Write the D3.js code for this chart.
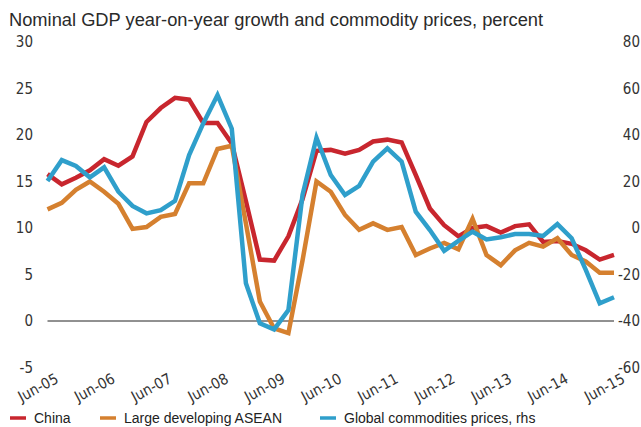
<!DOCTYPE html>
<html>
<head>
<meta charset="utf-8">
<script src="https://cdn.jsdelivr.net/npm/d3@7"></script>
<style>
  body { margin: 0; background: #fff; }
  svg { display: block; }
</style>
</head>
<body>
<div id="chart"></div>
<script>
// Quarterly observations, Jun-05 .. Jun-15
var tickLabels = ["Jun-05", "Jun-06", "Jun-07", "Jun-08", "Jun-09", "Jun-10",
                  "Jun-11", "Jun-12", "Jun-13", "Jun-14", "Jun-15"];

var china = [15.8, 14.7, 15.4, 16.2, 17.4, 16.7, 17.7, 21.4, 22.9, 24.0, 23.8,
             21.3, 21.3, 19.1, 12.9, 6.6, 6.5, 9.1, 13.1, 18.3, 18.4,
             18.0, 18.4, 19.3, 19.5, 19.2, 15.7, 12.1, 10.3, 9.1, 10.0,
             10.2, 9.5, 10.2, 10.4, 8.5, 8.6, 8.3, 7.6, 6.6, 7.1];

var asean = [12.0, 12.7, 14.1, 15.0, 13.9, 12.6, 9.9, 10.1, 11.2, 11.5, 14.8,
             14.8, 18.5, 18.85, 10.5, 2.1, -0.8, -1.3, 6.5, 15.0, 13.9,
             11.4, 9.8, 10.5, 9.8, 10.1, 7.1, 7.8, 8.4, 7.7, 11.0,
             7.1, 6.0, 7.6, 8.4, 8.0, 8.9, 7.1, 6.4, 5.2, 5.2];

var commodities = [20.2, 29.2, 26.7, 21.8, 26.1, 15.6, 9.5, 6.3, 7.7, 11.7, 31.4,
                   45.0, 57.2, 42.7, -23.8, -41.0, -43.6, -35.3, 14.2, 38.8, 22.8,
                   14.2, 18.1, 28.5, 34.3, 28.5, 7.0, -0.9, -9.8, -5.5, -1.6,
                   -4.9, -4.0, -2.6, -2.6, -3.4, 1.7, -4.4, -18.0, -32.4, -29.8];

var leftTicks = [30, 25, 20, 15, 10, 5, 0, -5];
var rightTicks = [80, 60, 40, 20, 0, -20, -40, -60];

var seriesInfo = [
    { name: "China", values: china, axis: "left", color: "#c8262e" },
    { name: "Large developing ASEAN", values: asean, axis: "left", color: "#d5802f" },
    { name: "Global commodities prices, rhs", values: commodities, axis: "right", color: "#2f9fcb" }
];

var width = 641, height = 427;
var labelFont = "'Liberation Sans Narrow', 'DejaVu Sans Condensed', Arial, sans-serif";

var svg = d3.select("#chart").append("svg")
    .attr("width", width)
    .attr("height", height);

// quarter dates for the x axis
var dates = d3.timeMonth.range(new Date(2005, 5, 1), new Date(2015, 6, 1), 3);

var x = d3.scaleTime()
    .domain([dates[0], dates[dates.length - 1]])
    .range([47.5, 614]);

var yLeft = d3.scaleLinear().domain([-5, 30]).range([367.5, 42]);
var yRight = d3.scaleLinear().domain([-60, 80]).range([367.5, 42]);

// title
svg.append("text")
    .attr("x", 9)
    .attr("y", 26)
    .attr("font-family", "'Liberation Sans', Arial, sans-serif")
    .attr("font-size", 18.3)
    .attr("fill", "#2a2a2a")
    .text("Nominal GDP year-on-year growth and commodity prices, percent");

// left axis labels
svg.append("g").selectAll("text")
    .data(leftTicks)
    .enter().append("text")
    .attr("x", 33)
    .attr("y", function (d) { return yLeft(d); })
    .attr("dy", "0.35em")
    .attr("text-anchor", "end")
    .attr("font-family", labelFont)
    .attr("font-size", 15)
    .attr("fill", "#333")
    .text(function (d) { return d; });

// right axis labels, pushed against the right edge
svg.append("g").selectAll("text")
    .data(rightTicks)
    .enter().append("text")
    .attr("x", 640)
    .attr("y", function (d) { return yRight(d); })
    .attr("dy", "0.35em")
    .attr("text-anchor", "end")
    .attr("font-family", labelFont)
    .attr("font-size", 15)
    .attr("fill", "#333")
    .text(function (d) { return d; });

// x labels, rotated
var tickDates = tickLabels.map(function (t, i) { return new Date(2005 + i, 5, 1); });
svg.append("g").selectAll("text")
    .data(tickLabels)
    .enter().append("text")
    .attr("transform", function (d, i) {
        return "translate(" + (x(tickDates[i]) + 12) + ",382) rotate(-28)";
    })
    .attr("text-anchor", "end")
    .attr("font-family", labelFont)
    .attr("font-size", 15)
    .attr("fill", "#333")
    .text(function (d) { return d; });

// zero line
svg.append("line")
    .attr("x1", x.range()[0])
    .attr("x2", x.range()[1])
    .attr("y1", yLeft(0))
    .attr("y2", yLeft(0))
    .attr("stroke", "#222")
    .attr("stroke-width", 1);

// series lines
seriesInfo.forEach(function (s) {
    var yScale = s.axis === "left" ? yLeft : yRight;
    var line = d3.line()
        .x(function (d, i) { return x(dates[i]); })
        .y(function (d) { return yScale(d); });
    svg.append("path")
        .datum(s.values)
        .attr("d", line)
        .attr("fill", "none")
        .attr("stroke", s.color)
        .attr("stroke-width", 4.5);
});

// legend
var legendX = [10, 100, 320];
var legend = svg.append("g").selectAll("g")
    .data(seriesInfo)
    .enter().append("g")
    .attr("transform", function (d, i) { return "translate(" + legendX[i] + ",418)"; });

legend.append("line")
    .attr("x1", 0).attr("x2", 16)
    .attr("y1", 0).attr("y2", 0)
    .attr("stroke", function (d) { return d.color; })
    .attr("stroke-width", 3.5);

legend.append("text")
    .attr("x", 24)
    .attr("y", 0)
    .attr("dy", "0.35em")
    .attr("font-family", "'Liberation Sans', Arial, sans-serif")
    .attr("font-size", 14)
    .attr("fill", "#222")
    .text(function (d) { return d.name; });
</script>
</body>
</html>
